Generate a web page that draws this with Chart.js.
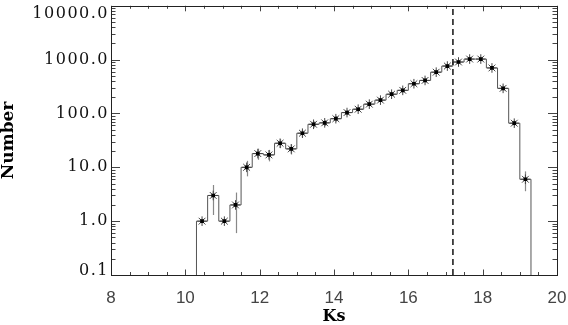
<!DOCTYPE html>
<html><head><meta charset="utf-8">
<script src="https://cdn.jsdelivr.net/npm/chart.js@4/dist/chart.umd.min.js"></script>
<style>html,body{margin:0;padding:0;background:#fff}#wrap{width:568px;height:325px}</style>
</head><body><div id="wrap"><canvas id="c" width="568" height="325"></canvas></div>
<script>
// ---- data ----
const binCenters = [10.45,10.75,11.05,11.35,11.65,11.95,12.25,12.55,12.85,13.15,13.45,13.75,14.05,14.35,14.65,14.95,15.25,15.55,15.85,16.15,16.45,16.75,17.05,17.35,17.65,17.95,18.25,18.55,18.85,19.15];
const counts = [1,3,1,2,10,18,17,28,22,43,63,67,80,104,120,149,177,228,269,357,411,585,760,903,1025,1025,701,293,66,6];
const countErrors = [null,1.7,null,1.4,3.2,4.2,4.1,5.3,4.7,6.6,7.9,8.2,8.9,10.2,11.0,12.2,13.3,15.1,16.4,18.9,20.3,24.2,27.6,30.0,32.0,32.0,26.5,17.1,8.1,2.4];
const binWidth = 0.3;
const cutMagnitude = 17.2;
const xTickValues = [8,10,12,14,16,18,20];
const yTickValues = [0.1,1,10,100,1000,10000];
const yTickLabels = ['0.1','1.0','10.0','100.0','1000.0','10000.0'];
const xTitle = 'Ks';
const yTitle = 'Number';
const xRange = [8,20];
const yRange = [0.1,10000];

// ---- tables built for the library ----
const half = binWidth/2;
const histPoints = [{x: binCenters[0]-half, y: yRange[0]}]
  .concat(counts.map((c,i)=>({x: binCenters[i]-half, y: c})))
  .concat([{x: binCenters[binCenters.length-1]+half, y: yRange[0]}]);
const markerPoints = counts.map((c,i)=>({x: binCenters[i], y: c}));
const cutPoints = [{x: cutMagnitude, y: yRange[0]}, {x: cutMagnitude, y: yRange[1]}];

const errorBars = {
  id: 'errorBars',
  beforeDatasetsDraw(chart){
    const {ctx, scales:{x, y}} = chart;
    ctx.save();
    ctx.strokeStyle = '#888';
    ctx.lineWidth = 1.2;
    counts.forEach((c,i)=>{
      const e = countErrors[i];
      if (e == null) return;
      const px = Math.round(x.getPixelForValue(binCenters[i])) + 0.5;
      const lo = Math.max(c - e, yRange[0]);
      ctx.beginPath();
      ctx.moveTo(px, y.getPixelForValue(lo));
      ctx.lineTo(px, y.getPixelForValue(c + e));
      ctx.stroke();
    });
    ctx.restore();
  }
};

const frameAndTicks = {
  id: 'frameAndTicks',
  afterDraw(chart){
    const {ctx, chartArea:a, scales:{x, y}} = chart;
    ctx.save();
    ctx.strokeStyle = '#444';
    ctx.lineWidth = 1;
    // x ticks (major every 2, minor every 0.5)
    for (let v = xRange[0]; v <= xRange[1] + 1e-9; v += 0.5) {
      const major = Math.abs(v/2 - Math.round(v/2)) < 1e-9;
      const len = major ? 5.5 : 3;
      const px = Math.round(x.getPixelForValue(v)) + 0.5;
      ctx.beginPath();
      ctx.moveTo(px, a.bottom); ctx.lineTo(px, a.bottom - len);
      ctx.moveTo(px, a.top); ctx.lineTo(px, a.top + len);
      ctx.stroke();
    }
    // y ticks (decades major, 2..9 minor)
    for (let d = -1; d <= 4; d++) {
      for (let k = 1; k <= 9; k++) {
        const v = k * Math.pow(10, d);
        if (v > yRange[1] * 1.0001) break;
        const len = k === 1 ? 9 : 4.5;
        const py = Math.round(y.getPixelForValue(v)) + 0.5;
        ctx.beginPath();
        ctx.moveTo(a.left, py); ctx.lineTo(a.left + len, py);
        ctx.moveTo(a.right, py); ctx.lineTo(a.right - len, py);
        ctx.stroke();
      }
    }
    // frame
    ctx.strokeStyle = '#222';
    ctx.strokeRect(Math.round(a.left)+0.5, Math.round(a.top)+0.5, Math.round(a.right-a.left), Math.round(a.bottom-a.top));
    // y tick labels
    ctx.fillStyle = '#111';
    ctx.font = '16px "DejaVu Serif"';
    try { ctx.letterSpacing = '1.5px'; } catch(e) {}
    ctx.textAlign = 'right';
    ctx.textBaseline = 'middle';
    yTickValues.forEach((v,i)=>{
      let py = y.getPixelForValue(v);
      py = Math.min(Math.max(py, a.top + 8), a.bottom - 4);
      ctx.fillText(yTickLabels[i], a.left - 2, py);
    });
    ctx.restore();
  }
};

new Chart(document.getElementById('c'), {
  type: 'scatter',
  data: {
    datasets: [
      { type: 'line', data: histPoints, stepped: true, borderColor: '#555', borderWidth: 1, pointRadius: 0, fill: false, order: 4 },
      { type: 'line', data: cutPoints, borderColor: '#111', borderWidth: 1.5, borderDash: [6,4], pointRadius: 0, fill: false, order: 3 },
      { data: markerPoints, pointStyle: 'star', pointRadius: 4.8, borderColor: '#444', borderWidth: 1, backgroundColor: '#444', order: 2 },
      { data: markerPoints, pointStyle: 'rect', pointRadius: 2.6, borderWidth: 0, backgroundColor: '#000', order: 1 }
    ]
  },
  options: {
    responsive: false,
    animation: false,
    devicePixelRatio: 1,
    layout: { padding: { top: 2, right: 11, left: 0, bottom: 0 } },
    plugins: { legend: { display: false }, tooltip: { enabled: false } },
    scales: {
      x: {
        type: 'linear', min: xRange[0], max: xRange[1],
        afterBuildTicks(s){ s.ticks = xTickValues.map(v=>({value:v})); },
        ticks: { font: { family: 'Liberation Sans', size: 17 }, color: '#444', padding: 13, maxRotation: 0, autoSkip: false },
        grid: { display: false, drawTicks: false },
        border: { display: false },
        title: { display: true, text: xTitle, color: '#000', font: { family: 'DejaVu Serif', weight: 'bold', size: 16, lineHeight: 1 }, padding: { top: 0, bottom: 0 } },
        afterFit(s){ s.height = 50; s.paddingLeft = 0; s.paddingRight = 0; }
      },
      y: {
        type: 'logarithmic', min: yRange[0], max: yRange[1],
        ticks: { display: false },
        grid: { display: false, drawTicks: false },
        border: { display: false },
        title: { display: true, text: yTitle, color: '#000', font: { family: 'DejaVu Serif', weight: 'bold', size: 17, lineHeight: 1 }, padding: { top: 0, bottom: 0 } },
        afterFit(s){ s.width = 111; s.paddingTop = 0; s.paddingBottom = 0; }
      }
    }
  },
  plugins: [errorBars, frameAndTicks]
});
</script>
</body></html>
